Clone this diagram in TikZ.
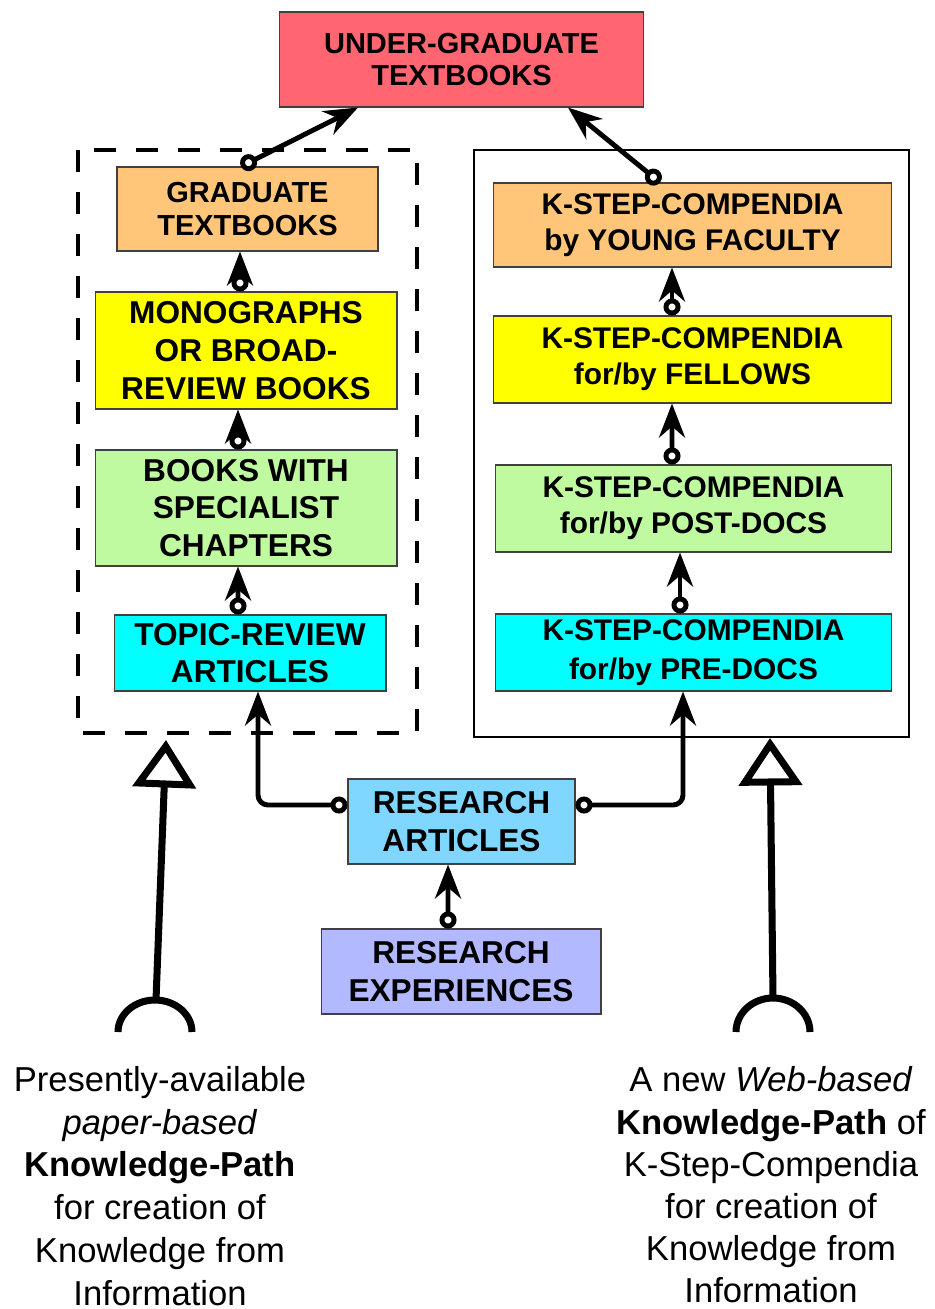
\documentclass[tikz,border=0pt]{standalone}
\usepackage{fontspec}
\setmainfont{Liberation Sans}
\usepackage{tikz}
\usetikzlibrary{arrows.meta}
\tikzstyle{box} = [rectangle, draw=black!75, line width=0.6pt, align=center, font=\bfseries\fontsize{18}{21.5}\selectfont, inner sep=0pt]
\tikzstyle{link} = [line width=2.8pt, {Circle[open,length=0.34cm]}-{Stealth[length=0.68cm,width=0.52cm,inset=0.22cm]}]
\tikzstyle{path} = [line width=4pt, -{Triangle[open,length=0.95cm,width=1.25cm]}]
\definecolor{ugred}{HTML}{FF6671}
\definecolor{gradorange}{HTML}{FFC67A}
\definecolor{monoyellow}{HTML}{FFFF00}
\definecolor{bookgreen}{HTML}{C0FAA0}
\definecolor{topiccyan}{HTML}{00FFFF}
\definecolor{researchblue}{HTML}{7FD6FF}
\definecolor{experblue}{HTML}{B2B9FF}
\begin{document}
\begin{tikzpicture}[x=0.02cm,y=-0.02cm]
			\useasboundingbox (0,0) rectangle (934,1309);
			\draw[line width=2.5pt, dash pattern=on 0.44cm off 0.4cm] (78,150) rectangle (417,733);
			\draw[line width=1.2pt] (474,150) rectangle (909,737);
			\node[box, fill=ugred, minimum width=7.3cm, minimum height=1.9cm, font=\bfseries\fontsize{16.5}{18.7}\selectfont] (ug) at (461.5,59.5) {UNDER-GRADUATE\\TEXTBOOKS};
			\node[box, fill=gradorange, minimum width=5.22cm, minimum height=1.68cm, font=\bfseries\fontsize{16.5}{18.7}\selectfont] (grad) at (247.5,209) {GRADUATE\\TEXTBOOKS};
			\node[box, fill=monoyellow, minimum width=6.04cm, minimum height=2.34cm] (mono) at (246,350.5) {MONOGRAPHS\\OR BROAD-\\REVIEW BOOKS};
			\node[box, fill=bookgreen, minimum width=6.04cm, minimum height=2.32cm] (books) at (246,508) {BOOKS WITH\\SPECIALIST\\CHAPTERS};
			\node[box, fill=topiccyan, minimum width=5.44cm, minimum height=1.52cm] (topic) at (250,653) {TOPIC-REVIEW\\ARTICLES};
			\node[box, fill=gradorange, minimum width=7.98cm, minimum height=1.68cm, font=\bfseries\fontsize{17}{20.4}\selectfont] (young) at (692.5,225) {K-STEP-COMPENDIA\\by YOUNG FACULTY};
			\node[box, fill=monoyellow, minimum width=7.98cm, minimum height=1.74cm, font=\bfseries\fontsize{17}{20.4}\selectfont] (fellows) at (692.5,359.5) {K-STEP-COMPENDIA\\for/by FELLOWS};
			\node[box, fill=bookgreen, minimum width=7.94cm, minimum height=1.74cm, font=\bfseries\fontsize{17}{20.4}\selectfont] (postdocs) at (693.5,508.5) {K-STEP-COMPENDIA\\for/by POST-DOCS};
			\node[box, fill=topiccyan, minimum width=7.94cm, minimum height=1.54cm, font=\bfseries\fontsize{17}{22}\selectfont] (predocs) at (693.5,652.5) {K-STEP-COMPENDIA\\for/by PRE-DOCS};
			\node[box, fill=researchblue, minimum width=4.54cm, minimum height=1.7cm] (research) at (461.5,821.5) {RESEARCH\\ARTICLES};
			\node[box, fill=experblue, minimum width=5.6cm, minimum height=1.7cm] (exper) at (461,971.5) {RESEARCH\\EXPERIENCES};
			% links between the boxes
			\draw[link] ([xshift=-0.13cm]grad.north) -- ([xshift=-2.07cm]ug.south);
			\draw[link] ([xshift=-0.65cm]young.north) -- ([xshift=2.13cm]ug.south);
			\draw[link] ([xshift=-0.12cm]mono.north) -- ([xshift=-0.15cm]grad.south);
			\draw[link] ([xshift=-0.16cm]books.north) -- ([xshift=-0.16cm]mono.south);
			\draw[link] ([xshift=-0.24cm]topic.north) -- ([xshift=-0.16cm]books.south);
			\draw[link] ([xshift=-0.41cm]fellows.north) -- ([xshift=-0.41cm]young.south);
			\draw[link] ([xshift=-0.43cm]postdocs.north) -- ([xshift=-0.41cm]fellows.south);
			\draw[link] ([xshift=-0.27cm]predocs.north) -- ([xshift=-0.27cm]postdocs.south);
			\draw[link, rounded corners=0.2cm] ([yshift=0.33cm]research.west) -| ([xshift=0.16cm]topic.south);
			\draw[link, rounded corners=0.2cm] ([yshift=0.33cm]research.east) -| ([xshift=-0.21cm]predocs.south);
			\draw[link] ([xshift=-0.26cm]exper.north) -- ([xshift=-0.27cm]research.south);
			% the two knowledge paths
			\coordinate (lfoot) at (156,1000);
			\coordinate (ltip) at (166,740);
			\coordinate (rfoot) at (773,998);
			\coordinate (rtip) at (770,738);
			\draw[path] (lfoot) -- (ltip);
			\draw[path] (rfoot) -- (rtip);
			\draw[line width=4pt] (118,1032) arc[start angle=180, end angle=0, x radius=0.74cm, y radius=0.64cm];
			\draw[line width=4pt] (736,1032) arc[start angle=180, end angle=0, x radius=0.74cm, y radius=0.68cm];
			\node[align=center, font=\fontsize{19.7}{24.4}\selectfont] (ltext) at (160,1186) {Presently-available\\\textit{paper-based}\\\textbf{Knowledge-Path}\\for creation of\\Knowledge from\\Information};
			\node[align=center, font=\fontsize{19.7}{24}\selectfont] (rtext) at (771,1185) {A new \textit{Web-based}\\\textbf{Knowledge-Path} of\\K-Step-Compendia\\for creation of\\Knowledge from\\Information};
		\end{tikzpicture}
\end{document}
